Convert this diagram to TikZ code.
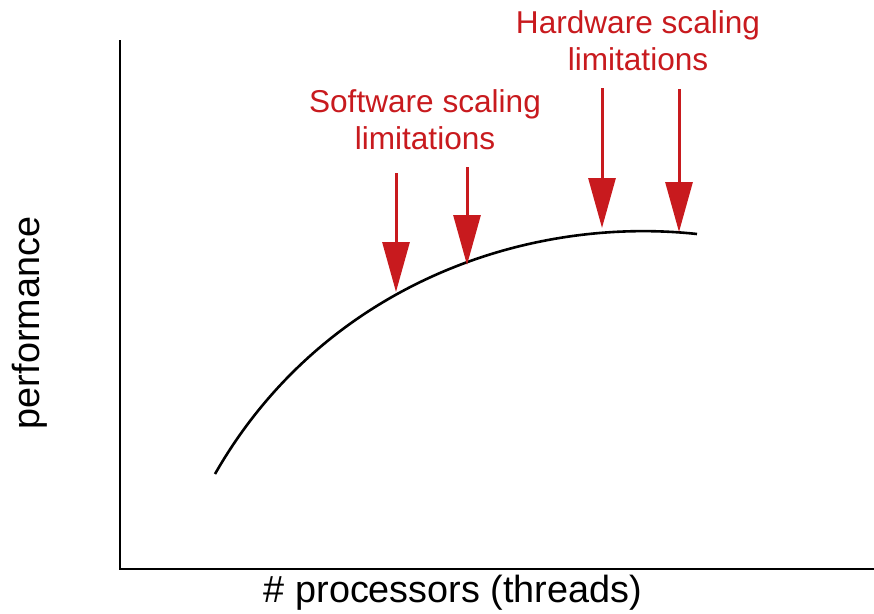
\documentclass[tikz,border=0pt]{standalone}
\usepackage{fontspec}
\setmainfont{Liberation Sans}
\usetikzlibrary{arrows.meta}
\definecolor{limitred}{RGB}{200,26,30}
\tikzset{
  axis/.style={line width=2.6pt, black},
  perfcurve/.style={line width=2.6pt, black},
  limitarrow/.style={line width=3pt, limitred, -{Triangle[width=27pt,length=50pt]}},
  label/.style={font=\fontsize{31.6}{37}\selectfont, align=center, inner sep=0pt},
  axislabel/.style={font=\fontsize{37.8}{44}\selectfont, inner sep=0pt},
  redlabel/.style={label, text=limitred}
}
\begin{document}
\begin{tikzpicture}[x=1pt,y=-1pt]
\useasboundingbox (0,0) rectangle (874,613);
% axes
\coordinate (ytop) at (120,41);
\coordinate (origin) at (120,569);
\coordinate (xend) at (874,569);
\draw[axis, line cap=rect] (ytop) -- (origin) -- (xend);
% axis labels
\node[axislabel, rotate=90] (ylabel) at (30,323) {performance};
\node[axislabel] (xlabel) at (453,593) {\# processors (threads)};
% performance curve
\coordinate (cstart) at (215,474);
\coordinate (cend) at (697,234);
\draw[perfcurve] (cstart) .. controls (320,290) and (520,215) .. (cend);
% software limitation arrows
\coordinate (s1top) at (396,173);
\coordinate (s1tip) at (396,292);
\coordinate (s2top) at (467,167);
\coordinate (s2tip) at (467,265);
\draw[limitarrow] (s1top) -- (s1tip);
\draw[limitarrow] (s2top) -- (s2tip);
% hardware limitation arrows
\coordinate (h1top) at (602,88);
\coordinate (h1tip) at (602,228);
\coordinate (h2top) at (679,89);
\coordinate (h2tip) at (679,232);
\draw[limitarrow] (h1top) -- (h1tip);
\draw[limitarrow] (h2top) -- (h2tip);
% labels above the arrows
\node[redlabel] (swlabel) at (425,120) {Software scaling\\limitations};
\node[redlabel] (hwlabel) at (638,41) {Hardware scaling\\limitations};
\end{tikzpicture}
\end{document}
